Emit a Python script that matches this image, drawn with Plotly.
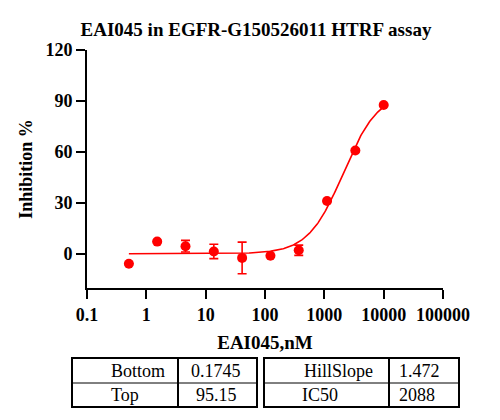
import numpy as np
import plotly.graph_objects as go

# concentrations (nM), 3-fold dilution series
conc = [0.508, 1.524, 4.572, 13.72, 41.15, 123.5, 370.4, 1111, 3333, 10000]
inhibition = [-5.7, 7.3, 4.6, 1.5, -2.3, -1.0, 2.2, 31.2, 60.9, 87.6]
sd = [0, 0, 3.4, 4.2, 9.3, 0, 3.0, 0, 0, 0]

# fitted 4PL parameters shown in the table
param_names_left = ["Bottom", "Top"]
param_values_left = ["0.1745", "95.15"]
param_names_right = ["HillSlope", "IC50"]
param_values_right = ["1.472", "2088"]
bottom, top, hill, ic50 = 0.1745, 95.15, 1.472, 2088

RED = "#ff0000"
SERIF = "Liberation Serif, Times New Roman, serif"

# the page body adds an 8px margin, so the figure is drawn 8px smaller
OFF = 8
W, H = 500 - 2 * OFF, 420 - 2 * OFF
L, R, T, B = 87 - OFF, 443 - OFF, 50 - OFF, 288 - OFF  # plot area in pixels


def px(x):
    return (x - OFF - L) / (R - L)


def py(y):
    return (B - (y - OFF)) / (B - T)


fit_x = np.logspace(np.log10(conc[0]), np.log10(conc[-1]), 300)
fit_y = bottom + (top - bottom) / (1 + (ic50 / fit_x) ** hill)

fig = go.Figure()
fig.add_trace(go.Scatter(
    x=fit_x, y=fit_y, mode="lines",
    line=dict(color=RED, width=1.6), hoverinfo="skip",
))
fig.add_trace(go.Scatter(
    x=conc, y=inhibition, mode="markers",
    marker=dict(color=RED, size=10),
    error_y=dict(type="data", array=sd, color=RED, thickness=1.6, width=4.5),
))

tickfont = dict(family=SERIF, size=18, color="black", weight="bold")
fig.update_xaxes(
    type="log", range=[-1, 5],
    tickvals=[0.1, 1, 10, 100, 1000, 10000, 100000],
    ticktext=["0.1", "1", "10", "100", "1000", "10000", "100000"],
    showline=True, linecolor="black", linewidth=2,
    ticks="outside", ticklen=9, tickwidth=2, tickcolor="black",
    showgrid=False, zeroline=False, tickfont=tickfont,
    title=dict(text="EAI045,nM", font=dict(family=SERIF, size=19, color="black", weight="bold"), standoff=12),
)
fig.update_yaxes(
    range=[-20, 120], tickvals=[0, 30, 60, 90, 120],
    showline=True, linecolor="black", linewidth=2,
    ticks="outside", ticklen=9, tickwidth=2, tickcolor="black",
    showgrid=False, zeroline=False, tickfont=tickfont,
    title=dict(text="Inhibition %", font=dict(family=SERIF, size=18, color="black", weight="bold"), standoff=8),
)

# parameter tables below the plot
shapes = []
annotations = []
# (left, divider, right, name text centres, value text centres)
tables = [
    (72, 178, 257, (138, 125), (216, 216), param_names_left, param_values_left),
    (264, 389, 459, (338, 320), (419, 417), param_names_right, param_values_right),
]
ty0, tmid, ty1 = 358, 383, 407
cellfont = dict(family=SERIF, size=18, color="black")
for x0, xm, x1, name_x, val_x, names, values in tables:
    shapes.append(dict(type="rect", xref="paper", yref="paper",
                       x0=px(x0), x1=px(x1), y0=py(ty0), y1=py(ty1),
                       line=dict(color="black", width=2)))
    shapes.append(dict(type="line", xref="paper", yref="paper",
                       x0=px(xm), x1=px(xm), y0=py(ty0), y1=py(ty1),
                       line=dict(color="black", width=2)))
    shapes.append(dict(type="line", xref="paper", yref="paper",
                       x0=px(x0), x1=px(x1), y0=py(tmid), y1=py(tmid),
                       line=dict(color="black", width=1)))
    for i, (n, v) in enumerate(zip(names, values)):
        yc = py((ty0 + tmid) / 2 if i == 0 else (tmid + ty1) / 2)
        annotations.append(dict(text=n, x=px(name_x[i]), y=yc, xref="paper", yref="paper",
                                showarrow=False, xanchor="center", yanchor="middle", font=cellfont))
        annotations.append(dict(text=v, x=px(val_x[i]), y=yc, xref="paper", yref="paper",
                                showarrow=False, xanchor="center", yanchor="middle", font=cellfont))

fig.update_layout(
    width=W, height=H,
    margin=dict(l=L, r=W - R, t=T, b=H - B),
    plot_bgcolor="white", paper_bgcolor="white",
    showlegend=False,
    title=dict(text="EAI045 in EGFR-G150526011 HTRF assay", x=(256 - OFF) / W, xanchor="center",
               y=1 - (29 - OFF) / H, yanchor="middle",
               font=dict(family=SERIF, size=19, color="black", weight="bold")),
    shapes=shapes, annotations=annotations,
)

fig.write_html("out.html")
